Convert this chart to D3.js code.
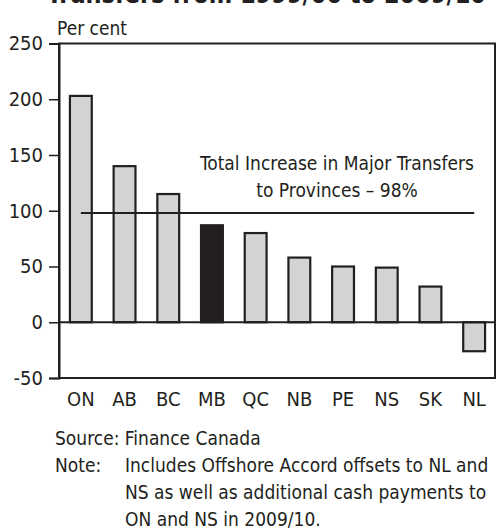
<!DOCTYPE html>
<html>
<head>
<meta charset="utf-8">
<script src="https://cdn.jsdelivr.net/npm/d3@7"></script>
<style>
  body { margin: 0; background: #fff; }
  svg text { font-family: "Liberation Sans Narrow", "DejaVu Sans Condensed", sans-serif; fill: #231f20; }
</style>
</head>
<body>
<svg id="chart" width="497" height="529"></svg>
<script>
// data
const provinces = ['ON', 'AB', 'BC', 'MB', 'QC', 'NB', 'PE', 'NS', 'SK', 'NL'];
const increase = [203, 140, 115, 87, 80, 58, 50, 49, 32, -26];
const highlight = ['MB'];
const totalIncrease = 98;
const yTicks = [-50, 0, 50, 100, 150, 200, 250];
const noteLines = [
    'Includes Offshore Accord offsets to NL and',
    'NS as well as additional cash payments to',
    'ON and NS in 2009/10.'
];

const data = provinces.map(function (p, i) { return { name: p, value: increase[i] }; });

const margin = { left: 59, right: 1, top: 43.5, bottom: 151 };
const width = 497, height = 529;

let svg = d3.select('#chart');

let x = d3.scaleBand()
    .domain(provinces)
    .range([margin.left, width - margin.right])
    .paddingInner(0.5)
    .paddingOuter(0.25);

let y = d3.scaleLinear()
    .domain([-50, 250])
    .range([height - margin.bottom, margin.top]);

const ink = '#231f20';

// title (cut off at the top)
svg.append('text')
    .attr('x', 486)
    .attr('y', 3)
    .attr('text-anchor', 'end')
    .attr('font-size', 25)
    .attr('font-weight', 'bold')
    .text('Transfers from 1999/00 to 2009/10');

// frame
svg.append('rect')
    .attr('x', x.range()[0])
    .attr('y', y(250))
    .attr('width', x.range()[1] - x.range()[0] - 1)
    .attr('height', y(-50) - y(250))
    .attr('fill', 'none')
    .attr('stroke', ink)
    .attr('stroke-width', 2);

// y axis
let yAxis = svg.append('g')
    .attr('transform', 'translate(' + margin.left + ',0)')
    .call(d3.axisLeft(y).tickValues(yTicks).tickSize(10).tickPadding(6)
        .tickFormat(function (d) { return String(d); }));
yAxis.select('.domain').attr('stroke', ink).attr('stroke-width', 2);
yAxis.selectAll('.tick line').attr('stroke', ink).attr('stroke-width', 1.5);
yAxis.selectAll('.tick text')
    .attr('font-size', 20)
    .attr('fill', ink)
    .style('font-family', '"Liberation Sans Narrow", "DejaVu Sans Condensed", sans-serif');

svg.append('text')
    .attr('x', 57)
    .attr('y', 35)
    .attr('font-size', 19)
    .text('Per cent');

// bars
svg.append('g')
    .selectAll('rect')
    .data(data)
    .join('rect')
    .attr('x', function (d) { return x(d.name); })
    .attr('width', x.bandwidth())
    .attr('y', function (d) { return y(Math.max(0, d.value)); })
    .attr('height', function (d) { return Math.abs(y(d.value) - y(0)); })
    .attr('fill', function (d) { return highlight.includes(d.name) ? ink : '#d1d3d4'; })
    .attr('stroke', ink)
    .attr('stroke-width', 2.2);

// zero line
svg.append('line')
    .attr('x1', x.range()[0])
    .attr('x2', x.range()[1] - 1)
    .attr('y1', y(0))
    .attr('y2', y(0))
    .attr('stroke', ink)
    .attr('stroke-width', 2);

// total increase line
svg.append('line')
    .attr('x1', x(provinces[0]) + x.bandwidth() / 2)
    .attr('x2', x(provinces[provinces.length - 1]) + x.bandwidth() / 2)
    .attr('y1', y(totalIncrease))
    .attr('y2', y(totalIncrease))
    .attr('stroke', ink)
    .attr('stroke-width', 2);

svg.append('text')
    .attr('x', 337)
    .attr('y', 170)
    .attr('text-anchor', 'middle')
    .attr('font-size', 19)
    .text('Total Increase in Major Transfers');
svg.append('text')
    .attr('x', 337)
    .attr('y', 197)
    .attr('text-anchor', 'middle')
    .attr('font-size', 19)
    .text('to Provinces \u2013 ' + totalIncrease + '%');

// category labels
svg.append('g')
    .selectAll('text')
    .data(provinces)
    .join('text')
    .attr('x', function (d) { return x(d) + x.bandwidth() / 2; })
    .attr('y', 406)
    .attr('text-anchor', 'middle')
    .attr('font-size', 20)
    .text(function (d) { return d; });

// source and note
svg.append('text')
    .attr('x', 55)
    .attr('y', 445)
    .attr('font-size', 19)
    .text('Source: Finance Canada');
svg.append('text')
    .attr('x', 55)
    .attr('y', 472)
    .attr('font-size', 19)
    .text('Note:');
svg.append('g')
    .selectAll('text')
    .data(noteLines)
    .join('text')
    .attr('x', 125)
    .attr('y', function (d, i) { return 472 + i * 27; })
    .attr('font-size', 19)
    .text(function (d) { return d; });
</script>
</body>
</html>
